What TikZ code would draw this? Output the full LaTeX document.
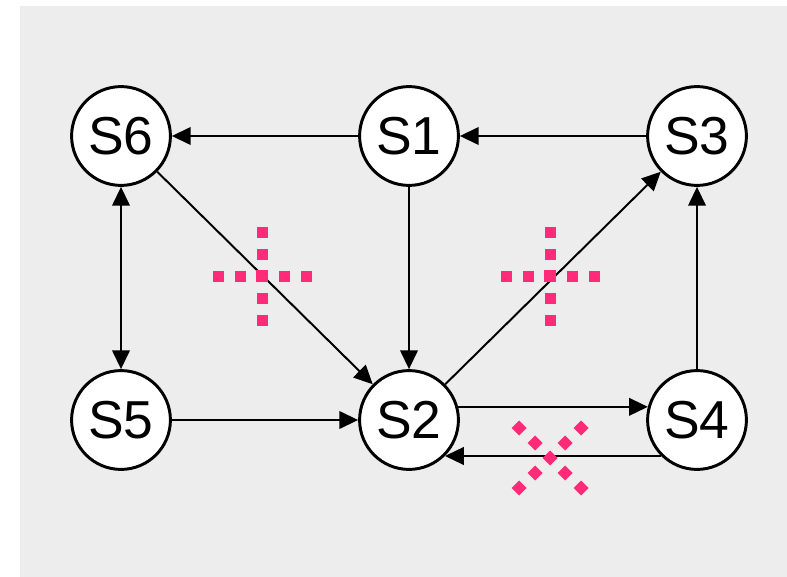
\documentclass[tikz,border=0pt]{standalone}
\usepackage{fontspec}
\setmainfont{Liberation Sans}
\usetikzlibrary{arrows.meta}

\definecolor{bggray}{RGB}{237,237,237}
\definecolor{cutpink}{RGB}{255,42,120}

\tikzset{
    state/.style={circle, draw, fill=white, line width=2.1pt, minimum size=2.47cm,
        inner sep=0pt, font=\fontsize{38}{40}\selectfont},
    edge/.style={line width=1.4pt, -{Triangle[length=0.47cm,width=0.44cm]}},
    twoway/.style={line width=1.4pt, {Triangle[length=0.47cm,width=0.44cm]}-{Triangle[length=0.47cm,width=0.44cm]}},
    cut/.style={fill=cutpink}
}

\begin{document}
\begin{tikzpicture}[x=0.025cm, y=-0.025cm]
    % Background
    \useasboundingbox (0,0) rectangle (787,577);
    \fill[bggray] (20,6) rectangle (787,577);

    % States
    \node[state] (s6) at (121,136) {S6};
    \node[state] (s1) at (409,136) {S1};
    \node[state] (s3) at (697,136) {S3};
    \node[state] (s5) at (121,420) {S5};
    \node[state] (s2) at (409,420) {S2};
    \node[state] (s4) at (697,420) {S4};

    % Transitions
    \draw[edge] (s1) -- (s6);
    \draw[edge] (s3) -- (s1);
    \draw[edge] (s1) -- (s2);
    \draw[edge] (s6) -- (s2);
    \draw[edge] (s2) -- (s3);
    \draw[edge] (s4) -- (s3);
    \draw[edge] (s5) -- (s2);
    \draw[twoway] (s6) -- (s5);
    \draw[edge] (s2.15) -- (s4.165);
    \draw[edge] (s4.-135) -- (s2.-45);

    % Removed transitions: dotted plus signs
    \foreach \cx in {262,550} {
        \foreach \d in {-44,-22,22,44} {
            \fill[cut] ({\cx+\d-5.5},270.5) rectangle ({\cx+\d+5.5},281.5);
            \fill[cut] ({\cx-5.5},{276+\d-5.5}) rectangle ({\cx+5.5},{276+\d+5.5});
        }
        \fill[cut] ({\cx-6},270) rectangle ({\cx+6},282);
    }

    % Dotted cross over S2 <-> S4
    \foreach \dx/\dy in {0/0, -15/-15, -31/-30, 15/-15, 31/-30, -15/15, -31/30, 15/15, 31/30} {
        \fill[cut] ({550+\dx-7.5},{458+\dy}) -- ({550+\dx},{458+\dy-7.5})
            -- ({550+\dx+7.5},{458+\dy}) -- ({550+\dx},{458+\dy+7.5}) -- cycle;
    }
\end{tikzpicture}
\end{document}
